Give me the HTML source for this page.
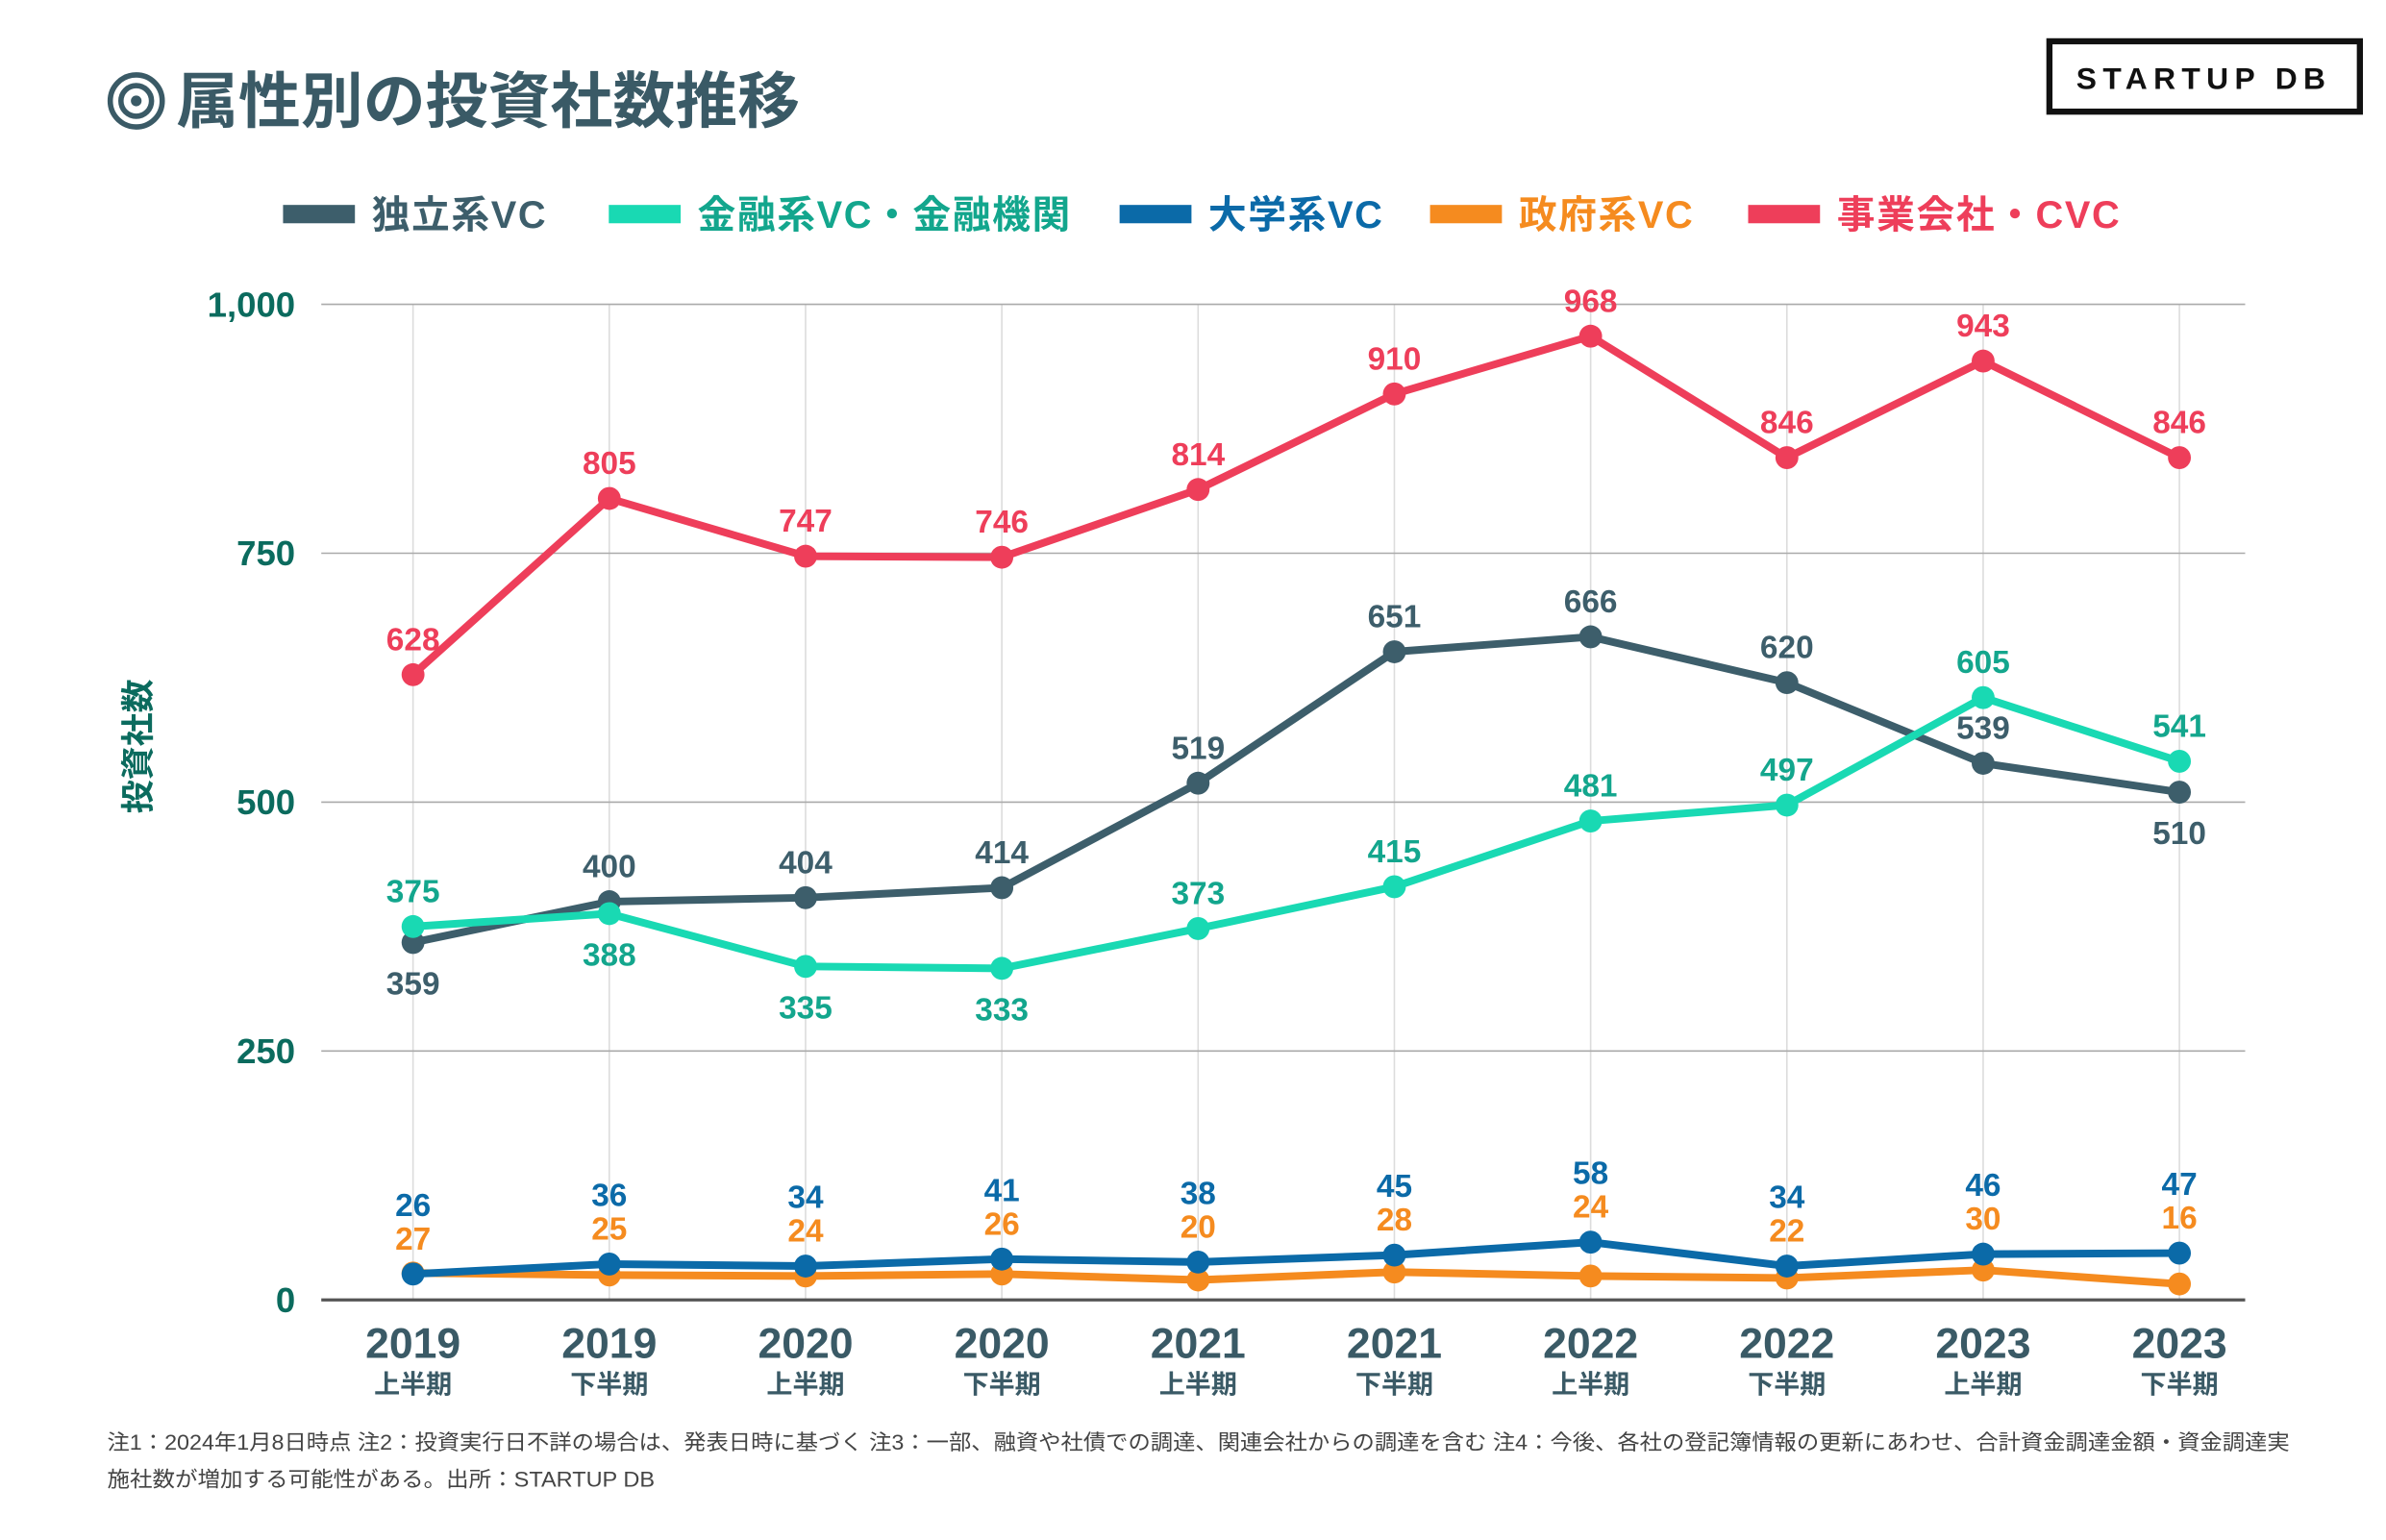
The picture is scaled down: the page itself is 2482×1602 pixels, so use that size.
<!DOCTYPE html>
<html><head><meta charset="utf-8">
<style>
html,body{margin:0;padding:0;background:#fff;}
svg{display:block;font-family:"Liberation Sans","Noto Sans CJK JP",sans-serif;}
</style></head>
<body>
<svg id="chart" width="2482" height="1602" viewBox="0 0 1560 1007">
  <g>
    <circle cx="89" cy="66" r="17" fill="none" stroke="#3a5a66" stroke-width="3.5"/>
    <circle cx="89" cy="66" r="10" fill="none" stroke="#3a5a66" stroke-width="3.5"/>
    <circle cx="89" cy="66" r="3.5" fill="#3a5a66"/>
    <text x="115" y="80" font-size="40" font-weight="bold" fill="#3a5a66" textLength="408" lengthAdjust="spacingAndGlyphs">属性別の投資社数推移</text>
  </g>
  <g>
    <rect x="1340" y="27" width="203" height="46" fill="none" stroke="#111" stroke-width="4"/>
    <text x="1441" y="58" font-size="20" font-weight="bold" fill="#111" text-anchor="middle" letter-spacing="4">STARTUP DB</text>
  </g>
  <g id="legend"></g>
  <g id="grid"></g>
  <g id="yaxis"></g>
  <text transform="translate(98,488) rotate(-90)" font-size="22" font-weight="bold" fill="#0b6b5e" text-anchor="middle">投資社数</text>
  <g id="xaxis"></g>
  <g id="series"></g>
  <g font-size="14" fill="#444">
    <text x="70" y="948" textLength="1427" lengthAdjust="spacingAndGlyphs">注1：2024年1月8日時点 注2：投資実行日不詳の場合は、発表日時に基づく 注3：一部、融資や社債での調達、関連会社からの調達を含む 注4：今後、各社の登記簿情報の更新にあわせ、合計資金調達金額・資金調達実</text>
    <text x="70" y="972" textLength="358" lengthAdjust="spacingAndGlyphs">施社数が増加する可能性がある。出所：STARTUP DB</text>
  </g>
</svg>
<script>
const years = ["2019","2019","2020","2020","2021","2021","2022","2022","2023","2023"];
const halves = ["上半期","下半期","上半期","下半期","上半期","下半期","上半期","下半期","上半期","下半期"];
const yTicks = [0,250,500,750,1000];
const yTickLabels = ["0","250","500","750","1,000"];
const independent = [359,400,404,414,519,651,666,620,539,510];
const financial = [375,388,335,333,373,415,481,497,605,541];
const university = [26,36,34,41,38,45,58,34,46,47];
const government = [27,25,24,26,20,28,24,22,30,16];
const corporate = [628,805,747,746,814,910,968,846,943,846];
const seriesNames = ["独立系VC","金融系VC・金融機関","大学系VC","政府系VC","事業会社・CVC"];
const indepBelow = [true,false,false,false,false,false,false,false,false,true];
const finBelow = [false,true,true,true,false,false,false,false,false,false];

const NS="http://www.w3.org/2000/svg";
function mk(tag, attrs, parent, txt){const e=document.createElementNS(NS,tag);for(const k in attrs)e.setAttribute(k,attrs[k]);if(txt!==undefined)e.textContent=txt;parent.appendChild(e);return e;}
const X0=270, DX=(1425-270)/9, Y0=850, Y1=199;
const xs=i=>X0+i*DX;
const ys=v=>Y0-(Y0-Y1)*v/1000;

const grid=document.getElementById('grid');
for(let i=0;i<years.length;i++){const l=mk('line',{x1:xs(i),x2:xs(i),y1:Y1,y2:Y0,stroke:'#dcdcdc','stroke-width':1},grid);

}
const yaxis=document.getElementById('yaxis');
yTicks.forEach((t,i)=>{
  const l=mk('line',{x1:210,x2:1468,y1:ys(t),y2:ys(t),stroke:t===0?'#555':'#aaa','stroke-width':t===0?2:1},grid);
  
  
  const tx=mk('text',{x:193,y:ys(t)+8,'font-size':23,'font-weight':'bold',fill:'#0b6b5e','text-anchor':'end'},yaxis,yTickLabels[i]);
  
  
});
const xaxis=document.getElementById('xaxis');
years.forEach((y,i)=>{
  const a=mk('text',{x:xs(i),y:888,'font-size':28,'font-weight':'bold',fill:'#3a5a66','text-anchor':'middle'},xaxis,y);
  
  
  const b=mk('text',{x:xs(i),y:911,'font-size':17,'font-weight':'bold',fill:'#3a5a66','text-anchor':'middle'},xaxis,halves[i]);
  
  
});
const colors=['#3d5e6b','#19d9b3','#0b6aa8','#f58b1f','#ee3e5a'];
const labelColors=['#3d5e6b','#13a68d','#0b6aa8','#f58b1f','#ee3e5a'];
const legend=document.getElementById('legend');
const lx=[185,398,732,935,1143];
seriesNames.forEach((n,i)=>{
  const g=mk('g',{},legend);
  
  
  mk('rect',{x:lx[i],y:134,width:47,height:12,fill:colors[i]},g);
  mk('text',{x:lx[i]+58,y:149,'font-size':25,'font-weight':'bold',fill:labelColors[i],'letter-spacing':1},g,n);
});
const all=[independent,financial,university,government,corporate];
const sg=document.getElementById('series');
const order=[3,2,0,1,4];
order.forEach(si=>{
  const data=all[si];
  const g=mk('g',{},sg);
  
  
  const pts=data.map((v,i)=>xs(i)+','+ys(v)).join(' ');
  const pl=mk('polyline',{points:pts,fill:'none',stroke:colors[si],'stroke-width':5,'stroke-linejoin':'round'},g);
  
  
  data.forEach((v,i)=>{
    const c=mk('circle',{cx:xs(i),cy:ys(v),r:7.5,fill:colors[si]},g);
    
    
    let ly;
    if(si===2) ly=ys(v)-38;
    else if(si===3) ly=ys(university[i])-16;
    else if(si===0) ly=indepBelow[i]?ys(v)+34:ys(v)-16;
    else if(si===1) ly=finBelow[i]?ys(v)+34:ys(v)-16;
    else ly=ys(v)-16;
    const t=mk('text',{x:xs(i),y:ly,'font-size':21,'font-weight':'bold',fill:labelColors[si],'text-anchor':'middle'},g,String(v));
    
    
  });
});
</script>
</body></html>
